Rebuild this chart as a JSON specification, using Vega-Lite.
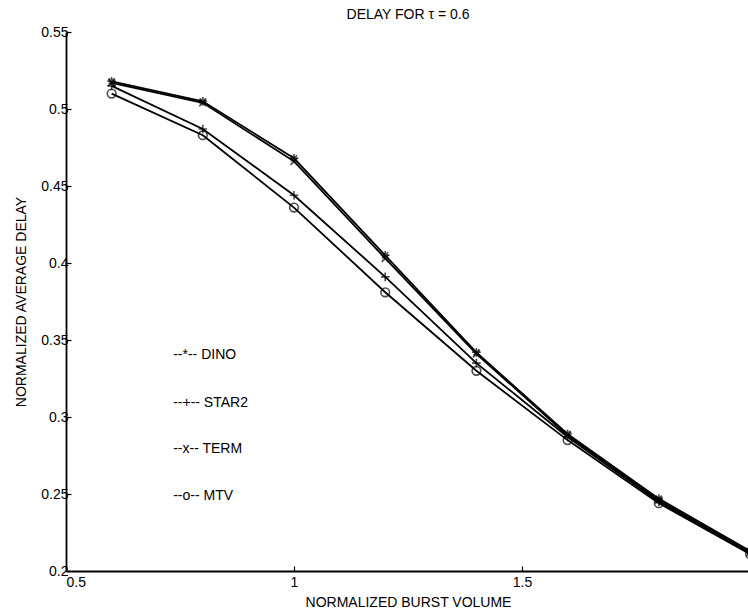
{
  "$schema": "https://vega.github.io/schema/vega-lite/v6.json",
  "width": 684,
  "height": 539,
  "autosize": {"type": "none"},
  "padding": {"left": 66, "top": 32, "right": 0, "bottom": 44},
  "background": "white",
  "title": {"text": "DELAY FOR τ = 0.6", "fontSize": 14, "font": "Liberation Sans", "fontWeight": "normal", "color": "black", "anchor": "middle", "offset": 3},
  "config": {
    "view": {"stroke": null},
    "axis": {
      "domainColor": "black", "tickColor": "black", "labelColor": "black", "titleColor": "black",
      "labelFont": "Liberation Sans", "titleFont": "Liberation Sans",
      "labelFontSize": 14, "titleFontSize": 14, "titleFontWeight": "normal",
      "grid": false, "tickSize": -5, "domainWidth": 1.8, "tickWidth": 1.2
    }
  },
  "datasets": {
    "curves": [
      {"series": "DINO", "x": 0.6, "y": 0.518}, {"series": "DINO", "x": 0.8, "y": 0.505}, {"series": "DINO", "x": 1.0, "y": 0.468}, {"series": "DINO", "x": 1.2, "y": 0.405}, {"series": "DINO", "x": 1.4, "y": 0.342}, {"series": "DINO", "x": 1.6, "y": 0.289}, {"series": "DINO", "x": 1.8, "y": 0.247}, {"series": "DINO", "x": 2.0, "y": 0.213},
      {"series": "TERM", "x": 0.6, "y": 0.517}, {"series": "TERM", "x": 0.8, "y": 0.504}, {"series": "TERM", "x": 1.0, "y": 0.466}, {"series": "TERM", "x": 1.2, "y": 0.403}, {"series": "TERM", "x": 1.4, "y": 0.341}, {"series": "TERM", "x": 1.6, "y": 0.288}, {"series": "TERM", "x": 1.8, "y": 0.246}, {"series": "TERM", "x": 2.0, "y": 0.212},
      {"series": "STAR2", "x": 0.6, "y": 0.515}, {"series": "STAR2", "x": 0.8, "y": 0.487}, {"series": "STAR2", "x": 1.0, "y": 0.444}, {"series": "STAR2", "x": 1.2, "y": 0.391}, {"series": "STAR2", "x": 1.4, "y": 0.335}, {"series": "STAR2", "x": 1.6, "y": 0.287}, {"series": "STAR2", "x": 1.8, "y": 0.245}, {"series": "STAR2", "x": 2.0, "y": 0.212},
      {"series": "MTV", "x": 0.6, "y": 0.510}, {"series": "MTV", "x": 0.8, "y": 0.483}, {"series": "MTV", "x": 1.0, "y": 0.436}, {"series": "MTV", "x": 1.2, "y": 0.381}, {"series": "MTV", "x": 1.4, "y": 0.330}, {"series": "MTV", "x": 1.6, "y": 0.285}, {"series": "MTV", "x": 1.8, "y": 0.244}, {"series": "MTV", "x": 2.0, "y": 0.211}
    ],
    "labels": [
      {"label": "--*-- DINO", "x": 0.735, "y": 0.340},
      {"label": "--+-- STAR2", "x": 0.735, "y": 0.309},
      {"label": "--x-- TERM", "x": 0.735, "y": 0.279},
      {"label": "--o-- MTV", "x": 0.735, "y": 0.249}
    ]
  },
  "layer": [
    {
      "data": {"name": "curves"},
      "mark": {"type": "line", "color": "black", "strokeWidth": 1.8, "clip": true},
      "encoding": {
        "x": {"field": "x", "type": "quantitative", "scale": {"domain": [0.5, 2], "nice": false, "zero": false},
              "axis": {"values": [0.5, 1, 1.5], "format": "~g", "title": "NORMALIZED BURST VOLUME", "labelPadding": 9, "titlePadding": 6}},
        "y": {"field": "y", "type": "quantitative", "scale": {"domain": [0.2, 0.55], "nice": false, "zero": false},
              "axis": {"values": [0.2, 0.25, 0.3, 0.35, 0.4, 0.45, 0.5, 0.55], "format": ".2~f", "title": "NORMALIZED AVERAGE DELAY", "labelPadding": 3, "titlePadding": 12}},
        "detail": {"field": "series"}
      }
    },
    {
      "data": {"name": "curves"},
      "mark": {"type": "point", "filled": false, "stroke": "black", "strokeWidth": 1.6, "size": 75, "clip": true},
      "encoding": {
        "x": {"field": "x", "type": "quantitative"},
        "y": {"field": "y", "type": "quantitative"},
        "shape": {"field": "series", "type": "nominal", "legend": null,
                  "scale": {"domain": ["DINO", "STAR2", "TERM", "MTV"],
                            "range": ["M-1,0L1,0M0,-1L0,1M-0.7,-0.7L0.7,0.7M-0.7,0.7L0.7,-0.7", "M-1,0L1,0M0,-1L0,1", "M-0.8,-0.8L0.8,0.8M-0.8,0.8L0.8,-0.8", "circle"]}}
      }
    },
    {
      "data": {"name": "labels"},
      "mark": {"type": "text", "align": "left", "baseline": "middle", "font": "Liberation Sans", "fontSize": 14, "color": "black"},
      "encoding": {
        "x": {"field": "x", "type": "quantitative"},
        "y": {"field": "y", "type": "quantitative"},
        "text": {"field": "label"}
      }
    }
  ]
}
